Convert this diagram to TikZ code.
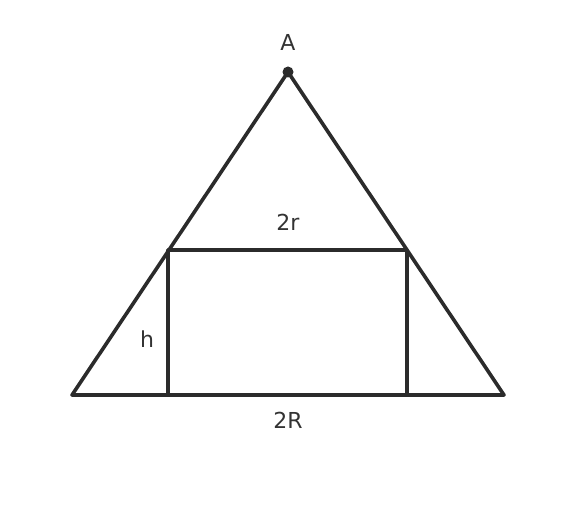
\documentclass[tikz,border=0pt]{standalone}
\usepackage{fontspec}
\setmainfont{DejaVu Sans}
\usepackage{tikz}
\definecolor{edgegray}{HTML}{2B2B2B}
\definecolor{labelgray}{HTML}{333333}

\begin{document}
\begin{tikzpicture}[x=1pt,y=-1pt,
   edge/.style={
      color = edgegray,
      line width = 3.6pt,
      line join = round
   },
   lbl/.style={
      text = labelgray,
      font = \fontsize{22}{26}\selectfont,
      inner sep = 0pt
   }]
   \useasboundingbox (0,0) rectangle (576,508);

   % triangle and inscribed box
   \coordinate (A) at (288,72);
   \coordinate (B) at (72,395);
   \coordinate (C) at (504,395);
   \coordinate (p1) at (168,395);
   \coordinate (p2) at (168,250);
   \coordinate (p3) at (407,250);
   \coordinate (p4) at (407,395);

   \draw[edge] (A) -- (B) -- (C) -- cycle;
   \draw[edge] (p1) -- (p2) -- (p3) -- (p4);
   \fill[edgegray] (A) circle[radius=5.5pt];

   \node[lbl] (la) at (288,42) {A};
   \node[lbl] (lr) at (288,222) {2r};
   \node[lbl] (lh) at (147,339) {h};
   \node[lbl] (lR) at (288,420) {2R};
\end{tikzpicture}
\end{document}
